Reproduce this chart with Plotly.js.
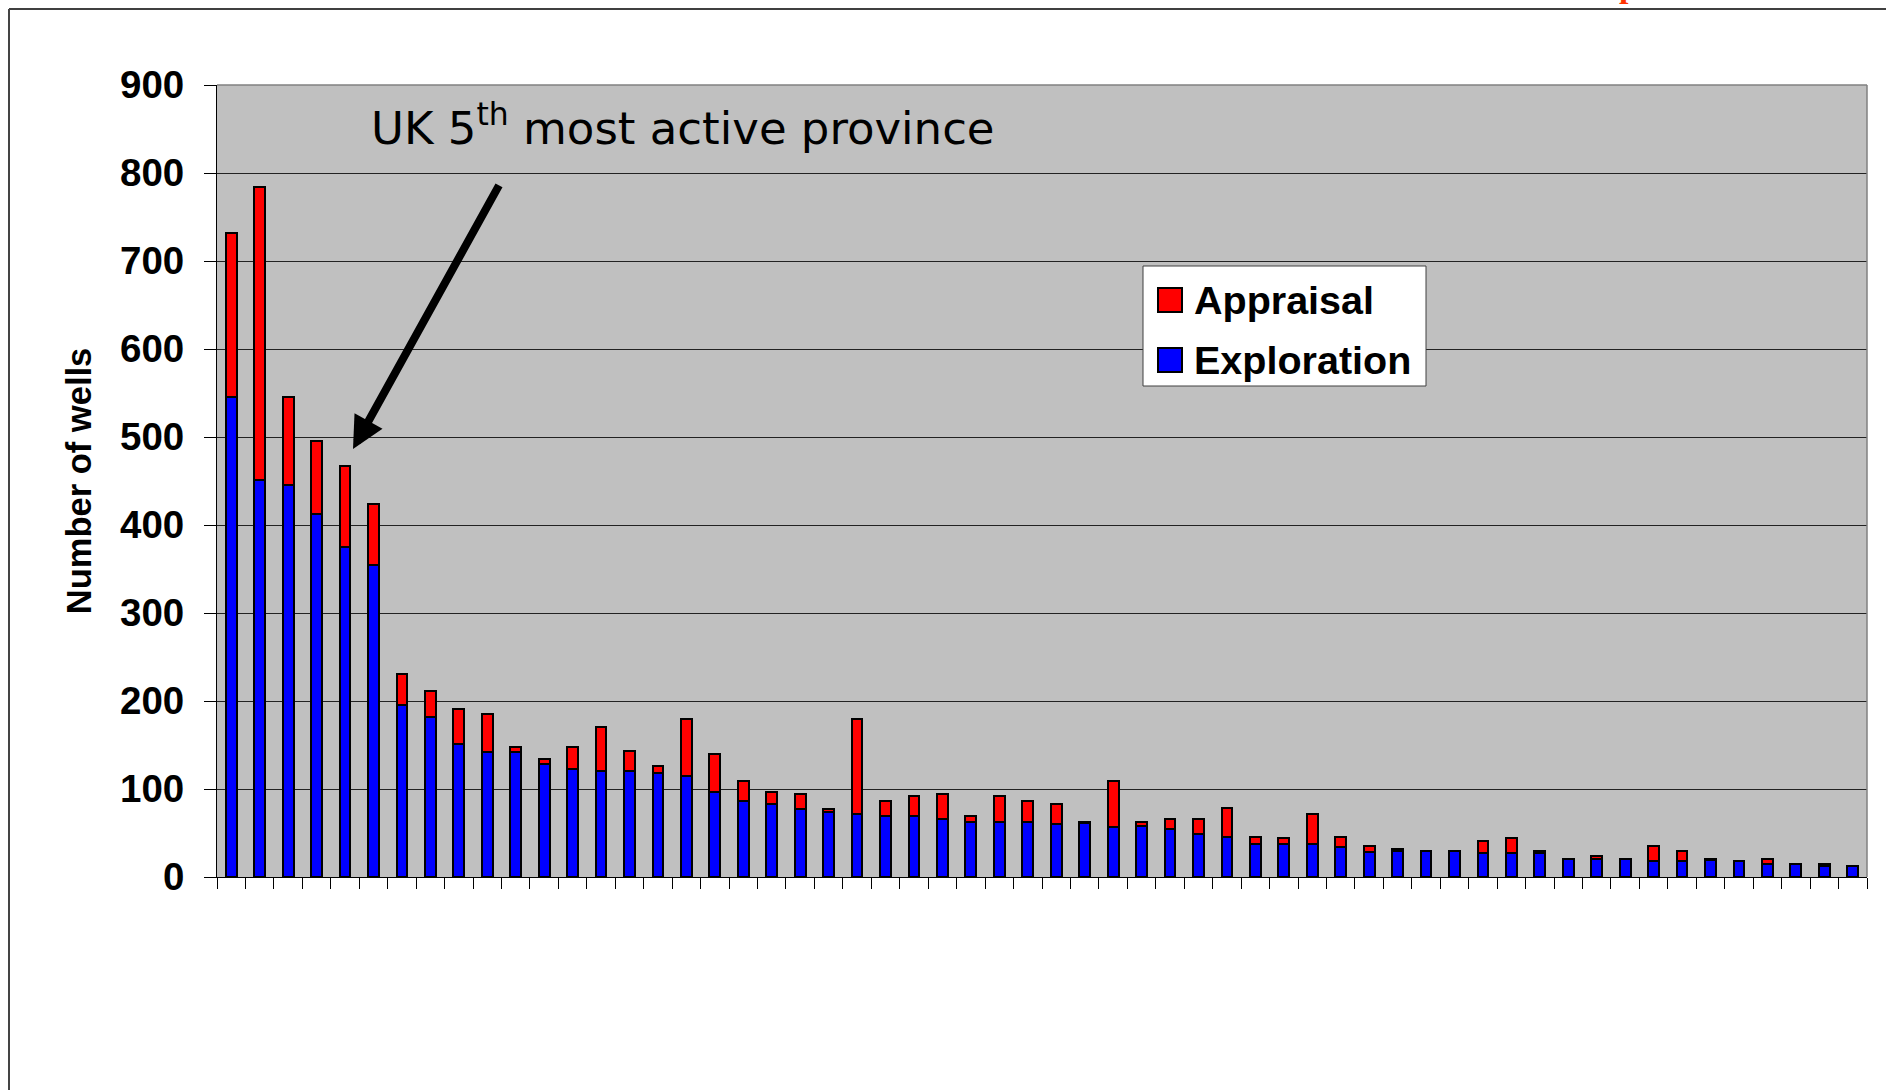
<!DOCTYPE html>
<html>
<head>
<meta charset="utf-8">
<script src="https://cdn.plot.ly/plotly-3.0.1.min.js"></script>
<style>
  html, body { margin: 0; padding: 0; background: #ffffff; }
  #chart { width: 1886px; height: 1090px; }
</style>
</head>
<body>
<div id="chart"></div>
<script>
// ---- data ----
var seriesNames = ['Appraisal', 'Exploration'];
var seriesColors = ['#FF0000', '#0000FF'];

var provinces = [];
for (var i = 1; i <= 58; i++) provinces.push(i);

var exploration = [545, 451, 446, 412, 375, 355, 196, 182, 151, 142,
                   142, 128, 123, 120, 120, 118, 115, 97, 86, 83,
                   77, 74, 72, 69, 69, 66, 63, 63, 63, 60,
                   61, 57, 58, 55, 49, 45, 37, 37, 37, 34,
                   28, 29, 29, 29, 27, 27, 27, 21, 21, 21,
                   18, 18, 19, 18, 15, 15, 12, 12];

var appraisal = [187, 333, 99, 83, 92, 69, 35, 29, 40, 43,
                 6, 6, 25, 51, 23, 8, 65, 43, 23, 14,
                 17, 3, 108, 17, 23, 28, 6, 29, 23, 23,
                 2, 52, 5, 11, 17, 33, 9, 7, 35, 12,
                 7, 3, 0, 0, 14, 17, 3, 0, 3, 0,
                 17, 11, 2, 0, 6, 0, 3, 0];

var yTickVals = [0, 100, 200, 300, 400, 500, 600, 700, 800, 900];
var yTitle = 'Number of wells';
var calloutText = 'UK 5<sup>th</sup> most active province';

// ---- traces ----
var traces = [
  {
    type: 'bar', name: seriesNames[1], x: provinces, y: exploration,
    marker: { color: seriesColors[1], line: { color: '#000000', width: 2 } },
    showlegend: false, hoverinfo: 'x+y+name'
  },
  {
    type: 'bar', name: seriesNames[0], x: provinces, y: appraisal,
    marker: { color: seriesColors[0], line: { color: '#000000', width: 2 } },
    showlegend: false, hoverinfo: 'x+y+name'
  }
];

// pixel -> paper helpers for the layout decorations
var L = 217, R = 19, T = 85, B = 213, W = 1886, H = 1090;
var PW = W - L - R, PH = H - T - B;
function px(x) { return (x - L) / PW; }
function py(y) { return (H - B - y) / PH; }

var tickFont = { family: 'Liberation Sans, Arial, sans-serif', size: 38.5, color: '#000000', weight: 'bold' };
var legendFont = { family: 'Liberation Sans, Arial, sans-serif', size: 39.5, color: '#000000', weight: 'bold' };

var layout = {
  width: W, height: H,
  margin: { l: L, r: R, t: T, b: B, pad: 0 },
  paper_bgcolor: '#ffffff',
  plot_bgcolor: '#C0C0C0',
  barmode: 'stack',
  bargap: 0.62,
  showlegend: false,
  xaxis: {
    range: [0.5, 58.5],
    tickmode: 'linear', tick0: 0.5, dtick: 1,
    showticklabels: false,
    ticks: 'outside', ticklen: 11, tickcolor: '#000000', tickwidth: 1,
    showgrid: false, zeroline: false,
    showline: true, linecolor: '#000000', linewidth: 1
  },
  yaxis: {
    range: [0, 900],
    tickmode: 'array', tickvals: yTickVals,
    ticks: 'outside', ticklen: 12, tickcolor: '#000000', tickwidth: 1,
    tickfont: tickFont,
    ticklabelstandoff: 12,
    showgrid: true, gridcolor: '#222222', gridwidth: 1,
    zeroline: false,
    showline: true, linecolor: '#000000', linewidth: 1,
    title: {
      text: yTitle,
      font: { family: 'Liberation Sans, Arial, sans-serif', size: 34.5, color: '#000000', weight: 'bold' },
      standoff: 17
    }
  },
  shapes: [
    // outer frame (top and left)
    { type: 'line', xref: 'paper', yref: 'paper', x0: px(9), x1: px(W), y0: py(9), y1: py(9),
      line: { color: '#000000', width: 1.5 } },
    { type: 'line', xref: 'paper', yref: 'paper', x0: px(9), x1: px(9), y0: py(9), y1: py(H),
      line: { color: '#444444', width: 2 } },
    // plot area border top & right
    { type: 'line', xref: 'paper', yref: 'paper', x0: 0, x1: 1, y0: 1, y1: 1,
      line: { color: '#808080', width: 1.5 } },
    { type: 'line', xref: 'paper', yref: 'paper', x0: 1, x1: 1, y0: 0, y1: 1,
      line: { color: '#808080', width: 1.5 } },
    // legend box
    { type: 'rect', xref: 'paper', yref: 'paper', x0: px(1143), x1: px(1426), y0: py(386), y1: py(266),
      fillcolor: '#ffffff', line: { color: '#404040', width: 1 } },
    { type: 'rect', xref: 'paper', yref: 'paper', x0: px(1158), x1: px(1182), y0: py(312), y1: py(288),
      fillcolor: seriesColors[0], line: { color: '#000000', width: 2 } },
    { type: 'rect', xref: 'paper', yref: 'paper', x0: px(1158), x1: px(1182), y0: py(372), y1: py(348),
      fillcolor: seriesColors[1], line: { color: '#000000', width: 2 } }
  ],
  annotations: [
    { xref: 'paper', yref: 'paper', x: px(1192), y: py(300), xanchor: 'left', yanchor: 'middle',
      text: seriesNames[0], showarrow: false, font: legendFont },
    { xref: 'paper', yref: 'paper', x: px(1192), y: py(360), xanchor: 'left', yanchor: 'middle',
      text: seriesNames[1], showarrow: false, font: legendFont },
    // callout text
    { xref: 'paper', yref: 'paper', x: px(369), y: py(125), xanchor: 'left', yanchor: 'middle',
      text: calloutText, showarrow: false,
      font: { family: 'DejaVu Sans, Verdana, sans-serif', size: 45, color: '#000000' } },
    // arrow
    { xref: 'x', yref: 'y', x: 0.5 + (353 - L) / (PW / 58), y: (H - B - 449) / (PH / 900),
      text: ' ', showarrow: true, ax: 149, ay: -269, axref: 'pixel', ayref: 'pixel',
      arrowcolor: '#000000', arrowwidth: 8, arrowhead: 2, arrowsize: 0.8, standoff: 0 },
    // cut-off red text fragment at the top edge
    { xref: 'paper', yref: 'paper', x: px(1628), y: py(6), xanchor: 'center', yanchor: 'bottom',
      text: 'p', showarrow: false,
      font: { family: 'Liberation Serif, serif', size: 34, color: '#FF3300', weight: 'bold' } }
  ]
};

Plotly.newPlot('chart', traces, layout, { displayModeBar: false, staticPlot: true });
</script>
</body>
</html>
